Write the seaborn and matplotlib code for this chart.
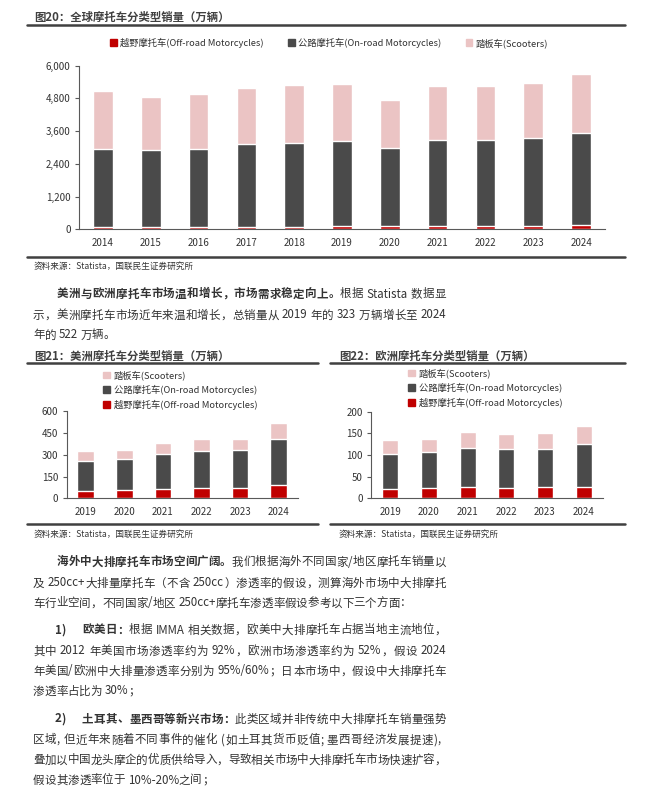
import re
import numpy as np
import matplotlib
matplotlib.use('Agg')
import matplotlib.pyplot as plt
from matplotlib.patches import Patch
from matplotlib.ticker import FuncFormatter, FixedLocator
import seaborn as sns

# 数据（万辆）
years_g = ['2014', '2015', '2016', '2017', '2018', '2019', '2020', '2021', '2022', '2023', '2024']
g_offroad = [85, 85, 85, 90, 95, 105, 120, 125, 125, 125, 150]
g_onroad = [2866, 2805, 2854, 3045, 3076, 3128, 2880, 3157, 3157, 3230, 3389]
g_scooter = [2118, 1971, 2008, 2045, 2119, 2094, 1739, 1971, 1983, 2021, 2167]

years_r = ['2019', '2020', '2021', '2022', '2023', '2024']
am_offroad = [53, 60, 64, 74, 74, 92]
am_onroad = [207, 214, 242, 252, 259, 320]
am_scooter = [63, 62, 73, 81, 79, 110]

eu_offroad = [21, 23, 25, 24, 25, 27]
eu_onroad = [81, 84, 92, 89, 90, 98]
eu_scooter = [32, 31, 37, 35, 36, 41]

lab_off = '越野摩托车(Off-road Motorcycles)'
lab_on = '公路摩托车(On-road Motorcycles)'
lab_sc = '踏板车(Scooters)'
source = '资料来源：Statista，国联民生证券研究所'

RED = '#C00000'
DARK = '#4A4A4A'
PINK = '#EBC4C4'
TXT = '#333333'
LINE = '#404040'
BODY = 8.3

sns.set_style('white')
plt.rcParams['font.family'] = ['Noto Sans CJK SC', 'DejaVu Sans']
plt.rcParams['axes.unicode_minus'] = False

W, H = 667, 793
fig = plt.figure(figsize=(W / 100, H / 100), dpi=100)
renderer = fig.canvas.get_renderer()


def fx(x):
    return x / W


def fy(y):
    return 1 - y / H


def rect(l, r, top, bot):
    return [fx(l), fy(bot), (r - l) / W, (bot - top) / H]


def hline(x0, x1, y, lw=1.8):
    fig.add_artist(plt.Line2D([fx(x0), fx(x1)], [fy(y), fy(y)], color=LINE, lw=lw))


_probe = fig.text(0, 0, '', fontsize=BODY)


def width(s, bold):
    _probe.set_fontweight('bold' if bold else 'normal')
    _probe.set_text('|' + s + '|')
    w1 = _probe.get_window_extent(renderer).width
    _probe.set_text('||')
    return w1 - _probe.get_window_extent(renderer).width


def line(x, y, parts, right=None):
    # 正文一行：粗体/常规混排，right 给出时两端对齐
    toks = []
    for s, bold in parts:
        for t in re.findall(r'[A-Za-z0-9%+./\-]+|.', s):
            toks.append((t, bold, width(t, bold)))
    gap = 0
    if right is not None and len(toks) > 1:
        gap = (right - x - sum(t[2] for t in toks)) / (len(toks) - 1)
    for t, bold, w in toks:
        if t.strip():
            fig.text(fx(x), fy(y), t, fontsize=BODY, color=TXT, va='center', ha='left',
                     fontweight='bold' if bold else 'normal')
        x += w + gap


def stacked(ax, years, off, on, sc, width, ymax, step, comma=False):
    off = np.array(off)
    on = np.array(on)
    sc = np.array(sc)
    sns.barplot(x=years, y=off + on + sc, color=PINK, width=width, saturation=1, ax=ax)
    sns.barplot(x=years, y=off + on, color=DARK, width=width, saturation=1, ax=ax)
    sns.barplot(x=years, y=off, color=RED, width=width, saturation=1, ax=ax)
    ax.set_xlim(-0.5, len(years) - 0.5)
    ax.set_ylim(0, ymax)
    ax.set_yticks(np.arange(0, ymax + 1, step))
    if comma:
        ax.yaxis.set_major_formatter(FuncFormatter(lambda v, p: f'{int(v):,}'))
    ax.set_xlabel('')
    ax.set_ylabel('')
    for s in ['top', 'right']:
        ax.spines[s].set_visible(False)
    for s in ['left', 'bottom']:
        ax.spines[s].set_color('#595959')
        ax.spines[s].set_linewidth(0.8)
    ax.xaxis.set_minor_locator(FixedLocator(np.arange(-0.5, len(years), 1)))
    ax.tick_params(axis='x', which='major', length=0, labelsize=7, colors=TXT, pad=6)
    ax.tick_params(axis='x', which='minor', length=3, direction='out', color='#595959', width=0.8)
    ax.tick_params(axis='y', length=3, direction='out', color='#595959', width=0.8,
                   labelsize=7, colors=TXT, left=True, pad=3)


def title(x, y, s):
    fig.text(fx(x), fy(y), s, fontsize=8.2, fontweight='bold', color=LINE, va='center')


leg_kw = dict(frameon=False, fontsize=6.7, handlelength=0.75, handleheight=0.75,
              handletextpad=0.35, labelcolor=TXT, bbox_transform=fig.transFigure)

# ---- 图20 ----
title(34, 17, '图20：全球摩托车分类型销量（万辆）')
hline(27, 625, 25)
ax1 = fig.add_axes(rect(79, 605, 65.7, 229.3))
stacked(ax1, years_g, g_offroad, g_onroad, g_scooter, 0.41, 6000, 1200, comma=True)
h1 = [Patch(color=RED, label=lab_off), Patch(color=DARK, label=lab_on), Patch(color=PINK, label=lab_sc)]
ax1.legend(handles=h1, loc='center', bbox_to_anchor=(fx(329), fy(43)), ncol=3,
           columnspacing=2.6, **leg_kw)
hline(27, 625, 257)
fig.text(fx(34), fy(266), source, fontsize=6.2, color=TXT, va='center')

# 正文段落1
R = 446
line(57, 294, [('美洲与欧洲摩托车市场温和增长，市场需求稳定向上。', True), ('根据 Statista 数据显', False)], R)
line(33, 315, [('示，美洲摩托车市场近年来温和增长，总销量从 2019 年的 323 万辆增长至 2024', False)], R)
line(33, 335, [('年的 522 万辆。', False)])

# ---- 图21 / 图22 ----
title(34, 356, '图21：美洲摩托车分类型销量（万辆）')
title(339, 356, '图22：欧洲摩托车分类型销量（万辆）')
hline(27, 318, 363)
hline(330, 625, 363)

h2 = [Patch(color=PINK, label=lab_sc), Patch(color=DARK, label=lab_on), Patch(color=RED, label=lab_off)]

ax2 = fig.add_axes(rect(66.5, 298, 411.3, 498.3))
stacked(ax2, years_r, am_offroad, am_onroad, am_scooter, 0.43, 600, 150)
ax2.legend(handles=h2, loc='upper left', bbox_to_anchor=(fx(95), fy(362)), labelspacing=0.5, **leg_kw)

ax3 = fig.add_axes(rect(371, 603, 411.7, 498.3))
stacked(ax3, years_r, eu_offroad, eu_onroad, eu_scooter, 0.42, 200, 50)
ax3.legend(handles=h2, loc='upper left', bbox_to_anchor=(fx(400), fy(360)), labelspacing=0.5, **leg_kw)

hline(27, 318, 524)
hline(330, 625, 524)
fig.text(fx(34), fy(534), source, fontsize=6.2, color=TXT, va='center')
fig.text(fx(339), fy(534), source, fontsize=6.2, color=TXT, va='center')

# 正文段落2
line(57, 562, [('海外中大排摩托车市场空间广阔。', True), ('我们根据海外不同国家/地区摩托车销量以', False)], R)
line(33, 583, [('及 250cc+大排量摩托车（不含 250cc）渗透率的假设，测算海外市场中大排摩托', False)], R)
line(33, 603, [('车行业空间，不同国家/地区 250cc+摩托车渗透率假设参考以下三个方面：', False)])
line(55, 630, [('1)', True)])
line(82, 630, [('欧美日：', True), ('根据 IMMA 相关数据，欧美中大排摩托车占据当地主流地位，', False)], R)
line(33, 651, [('其中 2012 年美国市场渗透率约为 92%，欧洲市场渗透率约为 52%，假设 2024', False)], R)
line(33, 671, [('年美国/欧洲中大排量渗透率分别为 95%/60%；日本市场中，假设中大排摩托车', False)], R)
line(33, 691, [('渗透率占比为 30%；', False)])
line(55, 719, [('2)', True)])
line(82, 719, [('土耳其、墨西哥等新兴市场：', True), ('此类区域并非传统中大排摩托车销量强势', False)], R)
line(33, 740, [('区域, 但近年来随着不同事件的催化 (如土耳其货币贬值; 墨西哥经济发展提速),', False)], 441)
line(33, 760, [('叠加以中国龙头摩企的优质供给导入，导致相关市场中大排摩托车市场快速扩容，', False)], R)
line(33, 780, [('假设其渗透率位于 10%-20%之间；', False)])

_probe.remove()
fig.savefig('out.png', dpi=100)
